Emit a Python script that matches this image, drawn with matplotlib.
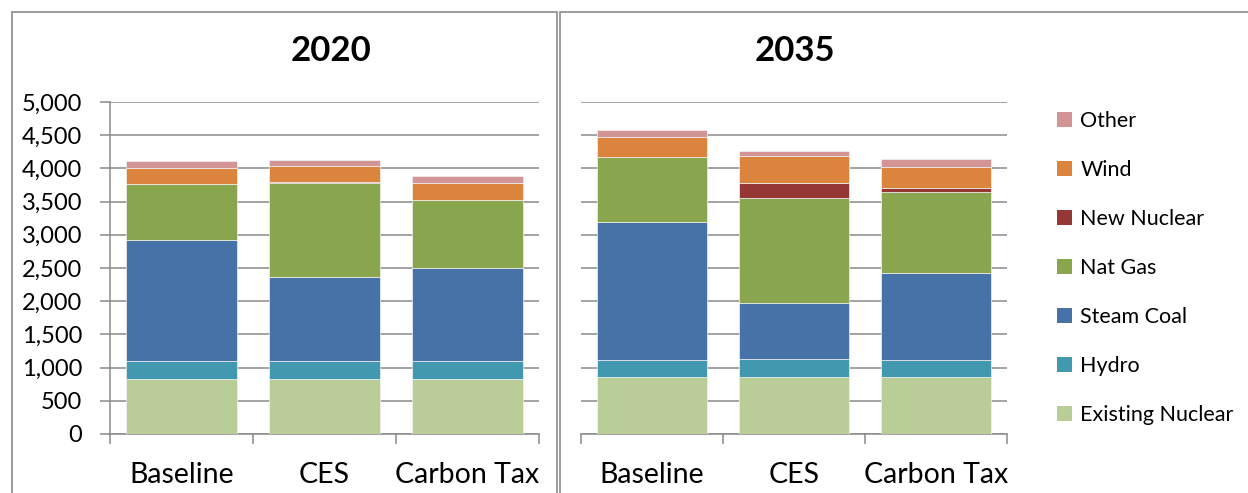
import matplotlib.pyplot as plt
from matplotlib.patches import Rectangle, Patch
from matplotlib.ticker import FuncFormatter, FixedLocator
import numpy as np

plt.rcParams['font.family'] = ['Lato', 'DejaVu Sans']

scenarios = ['Baseline', 'CES', 'Carbon Tax']
sources = ['Existing Nuclear', 'Hydro', 'Steam Coal', 'Nat Gas', 'New Nuclear', 'Wind', 'Other']
colors = ['#B9CD96', '#4198AF', '#4672A8', '#89A54E', '#953735', '#DB843D', '#D29494']

# values per source, order: Baseline, CES, Carbon Tax
gen_2020 = {
    'Existing Nuclear': [835, 835, 835],
    'Hydro': [262, 262, 262],
    'Steam Coal': [1826, 1267, 1408],
    'Nat Gas': [835, 1409, 1021],
    'New Nuclear': [0, 20, 0],
    'Wind': [241, 236, 247],
    'Other': [106, 101, 110],
}
gen_2035 = {
    'Existing Nuclear': [855, 855, 855],
    'Hydro': [252, 272, 252],
    'Steam Coal': [2082, 845, 1313],
    'Nat Gas': [976, 1579, 1227],
    'New Nuclear': [0, 222, 65],
    'Wind': [302, 407, 312],
    'Other': [110, 86, 111],
}

W, H = 1248, 493
fig = plt.figure(figsize=(W / 100, H / 100), dpi=100)

# panel frames
for x0, x1 in [(12, 557), (560, 1260)]:
    fig.patches.append(Rectangle((x0 / W, -0.05), (x1 - x0) / W, 1.05 - 12 / H,
                                 transform=fig.transFigure, fill=False,
                                 edgecolor='#8a8a8a', lw=1.2))

ax1 = fig.add_axes([110 / W, 59 / H, 429 / W, 332 / H])
ax2 = fig.add_axes([581 / W, 59 / H, 426 / W, 332 / H])

grid_c = '#8a8a8a'
for ax, data, title, tx in [(ax1, gen_2020, '2020', 331 / W), (ax2, gen_2035, '2035', 795 / W)]:
    x = np.arange(len(scenarios))
    bottom = np.zeros(len(scenarios))
    for src, c in zip(sources, colors):
        vals = np.array(data[src], dtype=float)
        ax.bar(x, vals, 0.77, bottom=bottom, color=c, edgecolor='#f2f2f2', lw=0.5, zorder=3)
        bottom += vals
    ax.set_xlim(-0.5, 2.5)
    ax.set_ylim(0, 5000)
    ax.set_yticks(np.arange(0, 5001, 500))
    ax.yaxis.grid(True, color=grid_c, lw=1.1, zorder=0)
    ax.set_axisbelow(True)
    ax.xaxis.set_major_locator(FixedLocator([-0.5, 0.5, 1.5, 2.5]))
    ax.xaxis.set_minor_locator(FixedLocator(x))
    ax.set_xticklabels([], minor=False)
    ax.set_xticklabels(scenarios, minor=True, fontsize=20.5)
    ax.tick_params(axis='x', which='major', length=7, width=1.1, color=grid_c, direction='out')
    ax.tick_params(axis='x', which='minor', length=0, pad=20)
    for s in ['top', 'right']:
        ax.spines[s].set_visible(False)
    ax.spines['bottom'].set_color(grid_c)
    ax.spines['bottom'].set_linewidth(1.1)
    fig.text(tx, 1 - 51 / H, title, ha='center', va='center',
             fontsize=25, fontweight='bold')

ax1.spines['left'].set_color(grid_c)
ax1.spines['left'].set_linewidth(1.1)
ax1.yaxis.set_major_formatter(FuncFormatter(lambda v, p: f'{int(v):,}'))
ax1.tick_params(axis='y', length=7, width=1.1, color=grid_c, labelsize=17, pad=13)

ax2.spines['left'].set_visible(False)
ax2.tick_params(axis='y', length=0, labelleft=False)

handles = [Patch(facecolor=c, edgecolor='none') for c in colors][::-1]
fig.legend(handles, sources[::-1], loc='upper left', bbox_to_anchor=(1048 / W, 1 - 102 / H),
           frameon=False, fontsize=15.5, handlelength=0.7, handleheight=0.7,
           handletextpad=0.4, labelspacing=1.35, borderaxespad=0)

fig.savefig('out.png', dpi=100)
